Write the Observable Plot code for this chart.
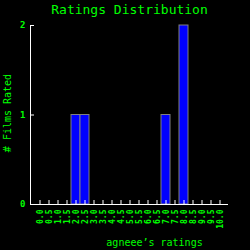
<!DOCTYPE html>
<html>
<head>
<meta charset="utf-8">
<script src="https://cdn.jsdelivr.net/npm/d3@7"></script>
<script src="https://cdn.jsdelivr.net/npm/@observablehq/plot@0.6"></script>
<style>
  html, body { margin: 0; padding: 0; background: #000; }
</style>
</head>
<body>
<div id="chart"></div>
<script>
const ratings = ["0.0","0.5","1.0","1.5","2.0","2.5","3.0","3.5","4.0","4.5","5.0","5.5","6.0","6.5","7.0","7.5","8.0","8.5","9.0","9.5","10.0"];
const counts  = [0,0,0,0,1,1,0,0,0,0,0,0,0,0,1,0,2,0,0,0,0];
const yTicks = [0, 1, 2];
const titleText = "Ratings Distribution";
const xLabel = "agneee’s ratings";
const yLabel = "# Films Rated";

const data = ratings.map((r, i) => ({rating: r, count: counts[i]}));
const green = "#00ff00";
const font = "DejaVu Sans Mono";

const chart = Plot.plot({
  width: 250,
  height: 250,
  marginLeft: 30,
  marginRight: 22,
  marginTop: 25,
  marginBottom: 46,
  style: {background: "#000", color: green, fontFamily: font},
  x: {domain: ratings, paddingInner: 0, paddingOuter: 0.5},
  y: {domain: [0, 2]},
  marks: [
    Plot.barY(data, {x: "rating", y: "count", fill: "#0000ff", stroke: "#808080", strokeWidth: 1}),
    Plot.ruleY([0], {stroke: "white"}),
    Plot.rect([0], {y1: 0, y2: 2, fill: "white", insetRight: 197}),
    Plot.tickX(data, {x: "rating", stroke: "white", insetTop: 175}),
    Plot.tickY(yTicks.filter(d => d > 0), {y: d => d, stroke: "white", insetRight: 194}),
    Plot.axisX({tickSize: 0, tickRotate: -90, tickPadding: 5, fontSize: 8, fontWeight: "bold", color: green, label: null}),
    Plot.axisY({ticks: yTicks, tickFormat: "d", tickSize: 0, tickPadding: 5, fontSize: 9, fontWeight: "bold", color: green, label: null}),
    Plot.text([titleText], {frameAnchor: "top", lineAnchor: "middle", textAnchor: "middle", dy: -16, fontSize: 13, fill: green, fontFamily: font}),
    Plot.text([xLabel], {frameAnchor: "bottom", lineAnchor: "middle", textAnchor: "middle", dx: 25, dy: 38, fontSize: 10, fill: green, fontFamily: font}),
    Plot.text([yLabel], {frameAnchor: "left", lineAnchor: "middle", textAnchor: "middle", dx: -23, dy: -2, rotate: -90, fontSize: 10, fill: green, fontFamily: font})
  ]
});
document.getElementById("chart").append(chart);
</script>
</body>
</html>
